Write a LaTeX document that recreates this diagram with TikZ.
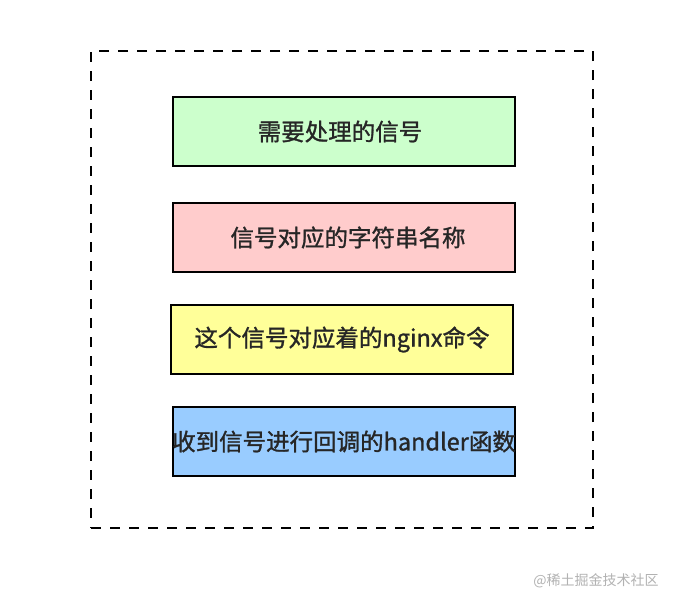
\documentclass[tikz,border=0pt]{standalone}
\usepackage{fontspec}
\newfontfamily\cjk{Noto Sans CJK SC}
\newfontfamily\cjkb[FakeBold=1.2]{Noto Sans CJK SC}
\definecolor{cgreen}{HTML}{CCFFCC}
\definecolor{cpink}{HTML}{FFCCCC}
\definecolor{cyellow}{HTML}{FFFF99}
\definecolor{cblue}{HTML}{99CCFF}
\begin{document}
\begin{tikzpicture}[x=1pt,y=-1pt,
  field/.style={draw=black,line width=2pt,minimum width=342pt,minimum height=69pt,inner sep=0pt},
  label/.style={font=\cjkb\fontsize{23.5pt}{26pt}\selectfont,text=black!85,inner sep=0pt},
  frame/.style={draw=black,line width=1.8pt,dash pattern=on 10pt off 9pt}]
\useasboundingbox (0,0) rectangle (678,606);
\fill[white] (0,0) rectangle (678,606);
\node[frame,minimum width=502pt,minimum height=477pt,inner sep=0pt] (outer) at (342,289.5) {};
\node[field,fill=cgreen] (f1) at (344,131.5) {};
\node[field,fill=cpink] (f2) at (344,237.5) {};
\node[field,fill=cyellow] (f3) at (342,339.5) {};
\node[field,fill=cblue] (f4) at (344,441.5) {};
\node[label] (t1) at ([xshift=-4pt]f1.center) {需要处理的信号};
\node[label] (t2) at ([xshift=4pt]f2.center) {信号对应的字符串名称};
\node[label] (t3) at (f3.center) {这个信号对应着的nginx命令};
\node[label] (t4) at (f4.center) {收到信号进行回调的handler函数};
\node[font=\cjk\fontsize{14pt}{16pt}\selectfont,text=black!30] (wm) at (596,581) {@稀土掘金技术社区};
\end{tikzpicture}
\end{document}
